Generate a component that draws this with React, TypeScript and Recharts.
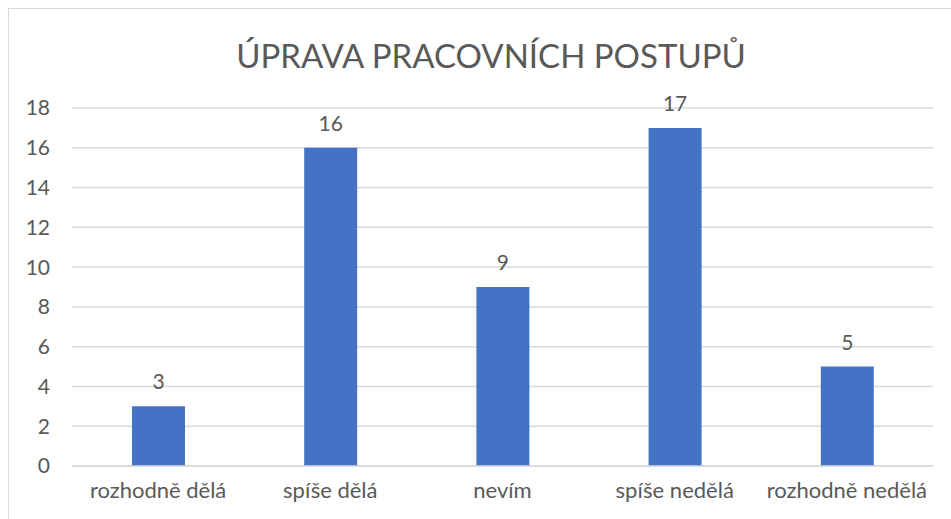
import { Bar, BarChart, CartesianGrid, LabelList, XAxis, YAxis } from "recharts";

const categories = ["rozhodně dělá", "spíše dělá", "nevím", "spíše nedělá", "rozhodně nedělá"];
const counts = [3, 16, 9, 17, 5];
const yTicks = [0, 2, 4, 6, 8, 10, 12, 14, 16, 18];

const data = categories.map((name, i) => ({ name, value: counts[i] }));

const FONT = "Lato, 'Noto Sans', sans-serif";
const TEXT = "#595959";
const GRID = "#d9d9d9";

export default function App() {
  return (
    <div
      style={{
        position: "absolute",
        left: 0,
        top: 0,
        width: 951,
        height: 519,
        overflow: "hidden",
        background: "#fff",
        fontFamily: FONT,
      }}
    >
      <div
        style={{
          position: "absolute",
          left: 8,
          top: 8,
          width: 970,
          height: 540,
          border: `1px solid ${GRID}`,
        }}
      />
      <div
        style={{
          position: "absolute",
          left: 0,
          top: 34,
          width: 982,
          textAlign: "center",
          fontSize: 33,
          color: TEXT,
          lineHeight: "42px",
        }}
      >
        ÚPRAVA PRACOVNÍCH POSTUPŮ
      </div>
      <BarChart
        width={951}
        height={519}
        data={data}
        margin={{ top: 108, right: 18, bottom: 23, left: 0 }}
        style={{ position: "absolute", left: 0, top: 0 }}
      >
        <CartesianGrid stroke={GRID} strokeWidth={1.5} vertical={false} />
        <XAxis
          dataKey="name"
          height={30}
          tickLine={false}
          axisLine={{ stroke: GRID, strokeWidth: 1.5 }}
          tick={{ fill: TEXT, fontSize: 22, fontFamily: FONT }}
          tickMargin={10}
          interval={0}
        />
        <YAxis
          width={72}
          domain={[0, 18]}
          ticks={yTicks}
          tickLine={false}
          axisLine={false}
          tick={{ fill: TEXT, fontSize: 21, fontFamily: FONT }}
          tickMargin={16}
        />
        <Bar dataKey="value" fill="#4472C4" barSize={53} isAnimationActive={false}>
          <LabelList
            dataKey="value"
            position="top"
            offset={17}
            fill={TEXT}
            fontSize={21}
            fontFamily={FONT}
          />
        </Bar>
      </BarChart>
    </div>
  );
}
